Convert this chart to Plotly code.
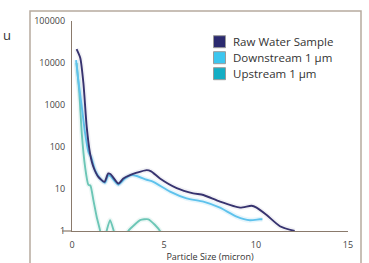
import plotly.graph_objects as go

# ---- data ----
raw_x = [0.25, 0.45, 0.62, 0.8, 0.98, 1.16, 1.43, 1.76, 1.97, 2.1, 2.52, 2.79, 3.15, 3.52,
         4.06, 4.3, 4.78, 5.69, 6.59, 7.14, 8.04, 9.13, 9.76, 10.03, 10.58, 11.3, 12.1]
raw_y = [21400, 13200, 3310, 302, 70.8, 33.9, 19.5, 14.8, 23.4, 22.4, 13.5, 17.8, 21.4, 24.5,
         28.2, 26.3, 17.8, 10.5, 7.9, 7.2, 5.0, 3.6, 4.0, 3.6, 2.4, 1.3, 1.0]

down_x = [0.22, 0.34, 0.53, 0.71, 0.89, 0.96, 1.05, 1.25, 1.52, 1.79, 1.97, 2.1, 2.52, 2.88,
          3.24, 3.52, 4.06, 4.42, 5.33, 6.23, 7.14, 8.04, 8.95, 9.67, 10.2, 10.35]
down_y = [11750, 3980, 912, 214, 77.6, 66, 56, 28.2, 17.8, 14.1, 21.4, 20, 12.6, 17.8,
          21.4, 20.4, 16.6, 14.8, 8.7, 6.0, 5.0, 3.6, 2.2, 1.8, 1.9, 1.9]

up_x = [0.25, 0.4, 0.53, 0.71, 0.89, 1.0, 1.16, 1.34, 1.52, 1.65, 1.85, 2.07, 2.3, 2.5,
        2.9, 3.06, 3.4, 3.7, 4.15, 4.5, 4.78, 5.0]
up_y = [10000, 1905, 214, 33.9, 12.6, 12.0, 5.5, 2.19, 1.05, 0.5, 0.9, 1.82, 0.9, 0.5,
        0.5, 1.0, 1.41, 1.82, 1.9, 1.41, 1.0, 0.5]

series_names = ["Raw Water Sample", "Downstream 1 µm", "Upstream 1 µm"]
x_ticks = [0, 5, 10, 15]
y_ticks = [1, 10, 100, 1000, 10000, 100000]
y_tick_labels = ["1", "10", "100", "1000", "10000", "100000"]

line_colors = ["#37336f", "#5ec2ec", "#6cc6b6"]
swatch_colors = ["#2b2a6f", "#3cc6ef", "#14adc4"]

FONT = "Open Sans"

fig = go.Figure()

series = [(raw_x, raw_y), (down_x, down_y), (up_x, up_y)]
halo_op = [0.06, 0.15, 0.12]
# draw upstream first, raw on top
for i in [2, 1, 0]:
    xs, ys = series[i]
    fig.add_trace(go.Scatter(x=xs, y=ys, mode="lines", showlegend=False,
                             line=dict(color=line_colors[i], width=5, shape="spline", smoothing=0.6),
                             opacity=halo_op[i], hoverinfo="skip"))
    fig.add_trace(go.Scatter(x=xs, y=ys, mode="lines", name=series_names[i], showlegend=False,
                             line=dict(color=line_colors[i], width=1.9, shape="spline", smoothing=0.6)))

axis_col = "#8a7a6c"
fig.update_xaxes(range=[0, 15], tickvals=x_ticks, showgrid=False, zeroline=False,
                 showline=True, linecolor=axis_col, linewidth=1.2, ticks="",
                 ticklabelstandoff=5, automargin=False,
                 tickfont=dict(family=FONT, size=9, color="#444"),
                 title=dict(text="Particle Size (micron)", font=dict(family=FONT, size=9, color="#333"),
                            standoff=7))
fig.update_yaxes(type="log", range=[0, 5], tickvals=y_ticks, ticktext=y_tick_labels,
                 showgrid=False, zeroline=False, showline=True, linecolor=axis_col, linewidth=1.2,
                 ticks="", ticklabelstandoff=4, automargin=False,
                 tickfont=dict(family=FONT, size=9, color="#444"))

W, H = 369, 263
L, R, T, B = 72, 21, 21, 32
pw, ph = W - L - R, H - T - B

def px(xp):
    return (xp - L) / pw

def py(yp):
    return (H - B - yp) / ph

shapes = [
    # outer frame
    dict(type="rect", xref="paper", yref="paper", x0=px(30), x1=px(361), y0=py(290), y1=py(11),
         line=dict(color="#b7ab9f", width=1.5), layer="below"),
    # x-axis line extension to the left of the y axis
    dict(type="line", xref="paper", yref="paper", x0=px(62), x1=0, y0=0, y1=0,
         line=dict(color=axis_col, width=1.2)),
]

annotations = [
    dict(text="u", xref="paper", yref="paper", x=px(7), y=py(35), showarrow=False,
         font=dict(family=FONT, size=13, color="#333"), xanchor="center", yanchor="middle"),
]

# legend (square swatches + labels)
leg_rows = [41.7, 57.7, 73.7]
for i, name in enumerate(series_names):
    yc = leg_rows[i]
    shapes.append(dict(type="rect", xref="paper", yref="paper",
                       x0=px(213.5), x1=px(225.5), y0=py(yc + 6), y1=py(yc - 6),
                       fillcolor=swatch_colors[i], line=dict(color="#9a9a9a", width=1)))
    annotations.append(dict(text=name, xref="paper", yref="paper", x=px(232), y=py(yc),
                            xanchor="left", yanchor="middle", showarrow=False, borderpad=0,
                            font=dict(family=FONT, size=11.5, color="#333")))

fig.update_layout(
    width=W, height=H, margin=dict(l=L, r=R, t=T, b=B),
    paper_bgcolor="white", plot_bgcolor="white",
    shapes=shapes, annotations=annotations, showlegend=False,
)

fig.write_html("out.html", config={"displayModeBar": False},
               post_script="document.body.style.margin='0';")
